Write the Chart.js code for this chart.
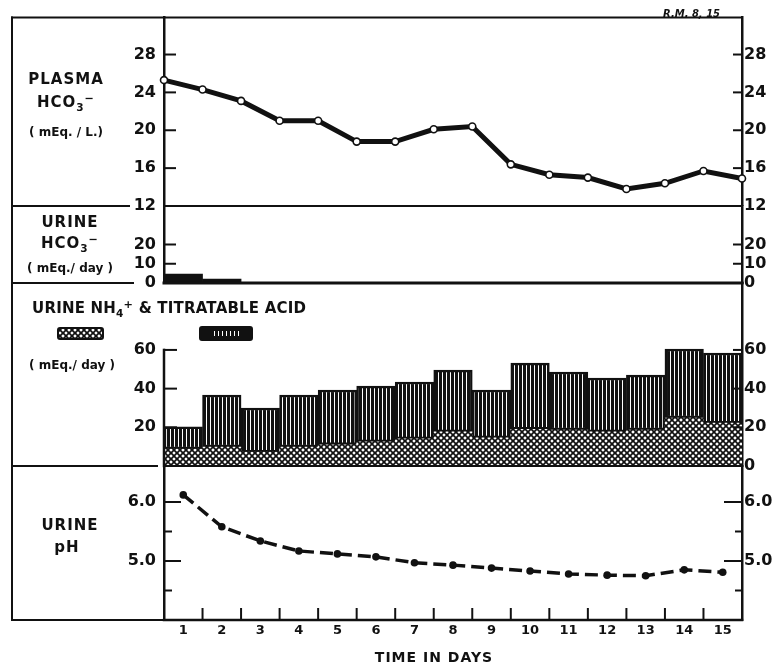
<!DOCTYPE html>
<html>
<head>
<meta charset="utf-8">
<script src="https://cdn.jsdelivr.net/npm/chart.js@4.4.1/dist/chart.umd.min.js"></script>
<style>
  body { margin: 0; background: #fff; }
  #wrap { position: relative; width: 776px; height: 666px; font-family: "DejaVu Sans", sans-serif; font-weight: bold; color: #111; }
  #wrap canvas { position: absolute; left: 0; top: 0; }
  .lbl { position: absolute; text-align: center; line-height: 1; white-space: nowrap; }
  .big { font-size: 15px; letter-spacing: 1px; }
  .small { font-size: 12px; }
  sub { font-size: 70%; vertical-align: -0.35em; line-height: 0; }
  sup { font-size: 75%; vertical-align: 0.45em; line-height: 0; }
</style>
</head>
<body>
<div id="wrap">
  <canvas id="plasma" width="776" height="666"></canvas>
  <canvas id="urineHco3" width="776" height="666"></canvas>
  <canvas id="acid" width="776" height="666"></canvas>
  <canvas id="ph" width="776" height="666"></canvas>

  <div class="lbl big" style="left:6px; top:72px; width:120px;">PLASMA</div>
  <div class="lbl big" style="left:6px; top:95px; width:120px;">HCO<sub>3</sub><sup>&minus;</sup></div>
  <div class="lbl small" style="left:6px; top:126px; width:120px;">( mEq. / L.)</div>

  <div class="lbl big" style="left:10px; top:215px; width:120px;">URINE</div>
  <div class="lbl big" style="left:10px; top:236px; width:120px;">HCO<sub>3</sub><sup>&minus;</sup></div>
  <div class="lbl small" style="left:10px; top:262px; width:120px;">( mEq./ day )</div>

  <div class="lbl big" style="left:32px; top:301px; text-align:left; letter-spacing:0.2px;">URINE NH<sub>4</sub><sup>+</sup> &amp; TITRATABLE ACID</div>
  <div class="lbl small" style="left:12px; top:359px; width:120px;">( mEq./ day )</div>

  <div class="lbl big" style="left:10px; top:518px; width:120px;">URINE</div>
  <div class="lbl big" style="left:7px; top:540px; width:120px;">pH</div>

  <div class="lbl" style="left:334px; top:650px; width:200px; font-size:14px; letter-spacing:1px;">TIME IN DAYS</div>
  <div class="lbl" style="left:663px; top:9px; font-size:10px; font-style:italic;">R.M. 8, 15</div>
</div>

<script>
// days of the study
const days = [1, 2, 3, 4, 5, 6, 7, 8, 9, 10, 11, 12, 13, 14, 15];

// plasma bicarbonate, measured at the day boundaries
const plasmaDays = [0.5, 1.5, 2.5, 3.5, 4.5, 5.5, 6.5, 7.5, 8.5, 9.5, 10.5, 11.5, 12.5, 13.5, 14.5, 15.5];
const plasmaHco3 = [25.3, 24.3, 23.1, 21.0, 21.0, 18.8, 18.8, 20.1, 20.4, 16.4, 15.3, 15.0, 13.8, 14.4, 15.7, 14.9];
const plasmaTicks = [12, 16, 20, 24, 28];

// urine bicarbonate per day
const urineHco3 = [4.6, 2.0, 0, 0, 0, 0, 0, 0, 0, 0, 0, 0, 0, 0, 0];
const urineHco3Ticks = [0, 10, 20];

// urine ammonium and titratable acid per day
const ammonium = [8.8, 9.8, 7.2, 9.8, 11.0, 12.5, 14.0, 17.6, 14.5, 19.0, 18.6, 17.6, 18.6, 24.8, 22.2];
const titratableAcid = [11.4, 26.9, 22.8, 26.9, 28.3, 28.8, 29.4, 32.0, 24.8, 34.2, 30.0, 27.9, 28.4, 35.7, 36.2];
const acidTicks = [0, 20, 40, 60];

// urine pH per day
const urinePh = [6.12, 5.58, 5.34, 5.17, 5.12, 5.07, 4.97, 4.93, 4.88, 4.83, 4.78, 4.76, 4.75, 4.85, 4.81];
const phTicks = [4.5, 5.0, 5.5, 6.0];
const phMajor = [5.0, 6.0];

const INK = '#111';
const OUTER_LEFT = 12;
const numFont = { family: 'DejaVu Sans', size: 16, weight: 'bold' };

// fill patterns
function stripes() {
    const c = document.createElement('canvas');
    c.width = 4; c.height = 4;
    const g = c.getContext('2d');
    g.fillStyle = INK; g.fillRect(0, 0, 4, 4);
    g.fillStyle = '#fff'; g.fillRect(2, 0, 1, 4);
    return g.createPattern(c, 'repeat');
}
function crosshatch() {
    const s = 6;
    const c = document.createElement('canvas');
    c.width = s; c.height = s;
    const g = c.getContext('2d');
    g.fillStyle = '#fff'; g.fillRect(0, 0, s, s);
    g.strokeStyle = INK; g.lineWidth = 1.7;
    [-s, 0, s].forEach(o => {
        g.beginPath(); g.moveTo(o, 0); g.lineTo(o + s, s); g.stroke();
        g.beginPath(); g.moveTo(o, s); g.lineTo(o + s, 0); g.stroke();
    });
    return g.createPattern(c, 'repeat');
}
const stripeFill = stripes();
const hatchFill = crosshatch();

function line(ctx, x1, y1, x2, y2) {
    ctx.beginPath(); ctx.moveTo(x1, y1); ctx.lineTo(x2, y2); ctx.stroke();
}

// short tick marks pointing into the plot
const innerTicks = {
    id: 'innerTicks',
    afterDraw(chart, args, opts) {
        const ctx = chart.ctx, a = chart.chartArea;
        ctx.save();
        ctx.strokeStyle = INK; ctx.lineWidth = 2;
        (opts.marks || []).forEach(m => {
            const sc = chart.scales[m.scale];
            m.values.forEach(v => {
                const len = typeof m.len === 'function' ? m.len(v) : m.len;
                const p = sc.getPixelForValue(v);
                if (m.side === 'left') line(ctx, a.left, p, a.left + len, p);
                else if (m.side === 'right') line(ctx, a.right - len, p, a.right, p);
                else line(ctx, p, a.bottom, p, a.bottom - len);
            });
        });
        ctx.restore();
    }
};

// outer frame and panel separators
const frame = {
    id: 'frame',
    afterDraw(chart, args, o) {
        const ctx = chart.ctx, a = chart.chartArea;
        ctx.save();
        ctx.strokeStyle = INK; ctx.lineCap = 'square'; ctx.lineWidth = 2;
        line(ctx, OUTER_LEFT, a.top, OUTER_LEFT, a.bottom);
        if (o.top) line(ctx, OUTER_LEFT, a.top, a.right, a.top);
        line(ctx, OUTER_LEFT, a.bottom, o.gapEnd, a.bottom);
        ctx.lineWidth = o.baseWidth || 2;
        line(ctx, a.left, a.bottom, a.right, a.bottom);
        if (o.partialLeft) {
            ctx.lineWidth = 2.5;
            const y = chart.scales.yL.getPixelForValue(o.partialLeft);
            line(ctx, a.left, y, a.left, a.bottom);
        }
        if (o.legend) {
            ctx.lineWidth = 2;
            ctx.fillStyle = hatchFill;
            ctx.beginPath(); ctx.roundRect(58, 328, 45, 11, 2); ctx.fill(); ctx.stroke();
            ctx.fillStyle = INK;
            ctx.beginPath(); ctx.roundRect(200, 327, 52, 13, 2); ctx.fill(); ctx.stroke();
            ctx.fillStyle = stripeFill;
            ctx.fillRect(212, 331, 28, 5);
        }
        ctx.restore();
    }
};

function dayAxis(show) {
    return {
        type: 'linear', min: 0.5, max: 15.5, display: show, offset: false,
        afterBuildTicks: ax => { ax.ticks = days.map(v => ({ value: v })); },
        afterFit: ax => { ax.height = show ? 46 : 0; },
        grid: { display: false, drawTicks: false, offset: false },
        border: { display: false },
        ticks: { font: { family: 'DejaVu Sans', size: 13, weight: 'bold' }, color: INK, padding: 3, autoSkip: false, maxRotation: 0 }
    };
}

function valueAxis(pos, min, max, ticks, label, border) {
    return {
        type: 'linear', position: pos, min: min, max: max,
        afterBuildTicks: ax => { ax.ticks = ticks.map(v => ({ value: v })); },
        afterFit: ax => { ax.width = pos === 'left' ? 164 : 34; },
        grid: { drawOnChartArea: false, drawTicks: false },
        border: { display: border !== false, color: INK, width: 2.5 },
        ticks: { callback: label, font: numFont, color: INK, padding: pos === 'left' ? 8 : 2, autoSkip: false }
    };
}

function panel(id, top, bottom, type, datasets, scales, plugOpts) {
    datasets.forEach(ds => { ds.xAxisID = 'x'; ds.yAxisID = 'yL'; });
    return new Chart(document.getElementById(id), {
        type: type,
        data: { datasets: datasets },
        options: {
            responsive: false,
            animation: false,
            layout: { padding: { top: top, bottom: 666 - bottom - (scales.x.display ? 46 : 0), left: 0, right: 0 } },
            scales: scales,
            plugins: Object.assign({ legend: { display: false }, tooltip: { enabled: false } }, plugOpts)
        },
        plugins: [innerTicks, frame]
    });
}

const plain = v => String(v);

panel('plasma', 7, 206, 'line', [{
    data: plasmaDays.map((d, i) => ({ x: d, y: plasmaHco3[i] })),
    borderColor: INK, borderWidth: 5, tension: 0,
    pointRadius: 3.5, pointBackgroundColor: '#fff', pointBorderColor: INK, pointBorderWidth: 1.6,
    clip: false
}], {
    x: dayAxis(false),
    yL: valueAxis('left', 12, 31.9, plasmaTicks, plain),
    yR: valueAxis('right', 12, 31.9, plasmaTicks, plain)
}, {
    innerTicks: { marks: [
        { scale: 'yL', side: 'left', values: plasmaTicks.slice(1), len: 12 },
        { scale: 'yR', side: 'right', values: plasmaTicks.slice(1), len: 9 }
    ] },
    frame: { top: true, gapEnd: 129, baseWidth: 2 }
});

panel('urineHco3', 206, 283, 'bar', [{
    data: days.map((d, i) => ({ x: d, y: urineHco3[i] })),
    backgroundColor: INK, borderWidth: 0,
    barPercentage: 1, categoryPercentage: 1
}], {
    x: dayAxis(false),
    yL: valueAxis('left', 0, 40, urineHco3Ticks, plain),
    yR: valueAxis('right', 0, 40, urineHco3Ticks, plain)
}, {
    innerTicks: { marks: [
        { scale: 'yL', side: 'left', values: urineHco3Ticks.slice(1), len: 12 },
        { scale: 'yR', side: 'right', values: urineHco3Ticks.slice(1), len: 9 }
    ] },
    frame: { gapEnd: 133, baseWidth: 3 }
});

panel('acid', 283, 466, 'bar', [{
    data: days.map((d, i) => ({ x: d, y: ammonium[i] })),
    backgroundColor: hatchFill, borderWidth: 0,
    barPercentage: 1, categoryPercentage: 1, stack: 'u'
}, {
    data: days.map((d, i) => ({ x: d, y: titratableAcid[i] })),
    backgroundColor: stripeFill, borderColor: INK, borderWidth: 2.5, borderSkipped: false,
    barPercentage: 1, categoryPercentage: 1, stack: 'u'
}], {
    x: Object.assign(dayAxis(false), { stacked: true }),
    yL: Object.assign(valueAxis('left', 0, 94.6, acidTicks, v => v === 0 ? '' : String(v), false), { stacked: true }),
    yR: valueAxis('right', 0, 94.6, acidTicks, plain)
}, {
    innerTicks: { marks: [
        { scale: 'yL', side: 'left', values: acidTicks.slice(1), len: 13 },
        { scale: 'yR', side: 'right', values: acidTicks.slice(1), len: 9 }
    ] },
    frame: { gapEnd: 157, baseWidth: 2, partialLeft: 60, legend: true }
});

panel('ph', 466, 620, 'line', [{
    data: days.map((d, i) => ({ x: d, y: urinePh[i] })),
    borderColor: INK, borderWidth: 3.5, borderDash: [13, 6], tension: 0,
    pointRadius: 3.8, pointBackgroundColor: INK, pointBorderColor: INK, pointBorderWidth: 0,
    clip: false
}], {
    x: dayAxis(true),
    yL: valueAxis('left', 4.0, 6.61, phTicks, v => phMajor.includes(v) ? v.toFixed(1) : ''),
    yR: valueAxis('right', 4.0, 6.61, phTicks, v => phMajor.includes(v) ? v.toFixed(1) : '')
}, {
    innerTicks: { marks: [
        { scale: 'yL', side: 'left', values: phTicks, len: v => phMajor.includes(v) ? 17 : 8 },
        { scale: 'yR', side: 'right', values: phTicks, len: v => phMajor.includes(v) ? 18 : 7 },
        { scale: 'x', side: 'bottom', values: days.slice(0, 14).map(d => d + 0.5), len: 12 }
    ] },
    frame: { gapEnd: 164, baseWidth: 2.5 }
});
</script>
</body>
</html>
